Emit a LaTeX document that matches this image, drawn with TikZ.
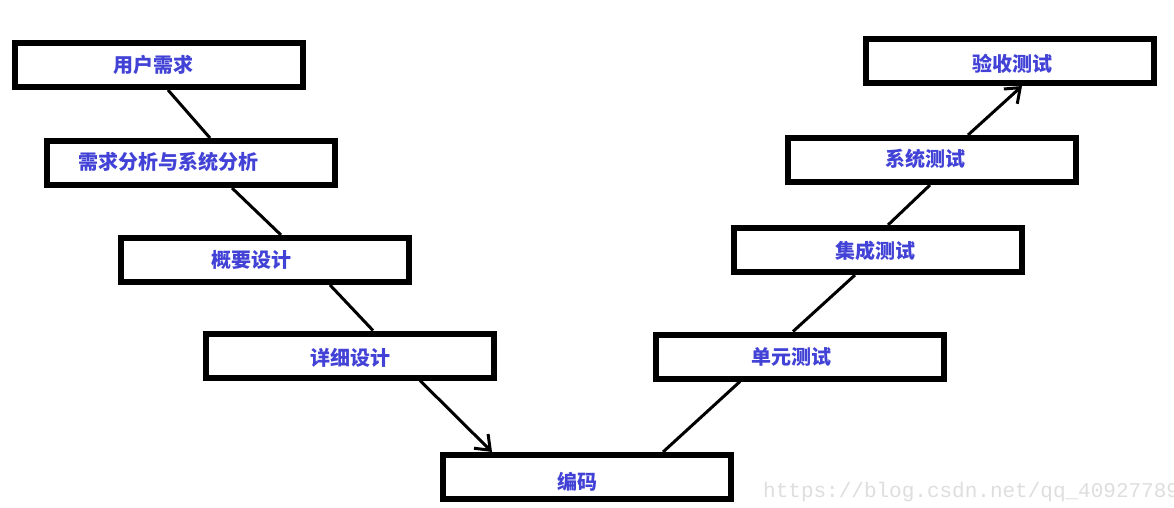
\documentclass[tikz,border=0pt]{standalone}
\usepackage{fontspec}
\newfontfamily\cjk{Noto Sans CJK SC}
\newfontfamily\wmfont{Liberation Mono}
\usetikzlibrary{arrows.meta}
\definecolor{txtblue}{RGB}{66,66,214}
\definecolor{wmgray}{RGB}{222,222,222}
\tikzset{
  stagebox/.style={draw=black, line width=6pt, fill=white, minimum width=288pt, minimum height=44pt, inner sep=0pt},
  stagetext/.style={text=txtblue, font=\cjk\bfseries\fontsize{20pt}{22pt}\selectfont, inner sep=0pt},
  conn/.style={draw=black, line width=3pt},
  arr/.style={conn, -{Straight Barb[length=13pt,width=20pt,line width=3pt]}}
}
\begin{document}
\begin{tikzpicture}[x=1pt,y=-1pt]
\path[use as bounding box, fill=white] (0,0) rectangle (1174,508);
% boxes
\node[stagebox] (b1) at (159,65) {};
\node[stagebox] (b2) at (190.5,163) {};
\node[stagebox] (b3) at (264.5,260) {};
\node[stagebox] (b4) at (349.5,355.5) {};
\node[stagebox] (b5) at (587,477) {};
\node[stagebox] (b6) at (799.5,356.5) {};
\node[stagebox] (b7) at (877.5,250) {};
\node[stagebox] (b8) at (932,160) {};
\node[stagebox] (b9) at (1009.5,61) {};
% texts
\node[stagetext] (t1) at (153,65) {用户需求};
\node[stagetext] (t2) at (168,162) {需求分析与系统分析};
\node[stagetext] (t3) at (251,260) {概要设计};
\node[stagetext] (t4) at (350,358) {详细设计};
\node[stagetext] (t5) at (577,482) {编码};
\node[stagetext] (t6) at (791,357) {单元测试};
\node[stagetext] (t7) at (875,251) {集成测试};
\node[stagetext] (t8) at (925,159) {系统测试};
\node[stagetext] (t9) at (1012,64) {验收测试};
% connectors
\draw[conn] ([xshift=9pt]b1.south) -- ([xshift=19.5pt]b2.north);
\draw[conn] ([xshift=41.5pt]b2.south) -- ([xshift=16.5pt]b3.north);
\draw[conn] ([xshift=65.5pt]b3.south) -- ([xshift=23.5pt]b4.north);
\draw[arr] ([xshift=70.5pt]b4.south) -- ([xshift=-95pt]b5.north);
\draw[conn] ([xshift=76pt]b5.north) -- ([xshift=-59.5pt]b6.south);
\draw[conn] ([xshift=-6.5pt]b6.north) -- ([xshift=-22.5pt]b7.south);
\draw[conn] ([xshift=10.5pt]b7.north) -- ([xshift=-2pt]b8.south);
\draw[arr] ([xshift=36pt]b8.north) -- ([xshift=12.5pt]b9.south);
% watermark
\node[anchor=base west, inner sep=0pt, text=wmgray, font=\wmfont\fontsize{21pt}{23pt}\selectfont] (wm) at (763,497) {https://blog.csdn.net/qq\_40927789};
\end{tikzpicture}
\end{document}
